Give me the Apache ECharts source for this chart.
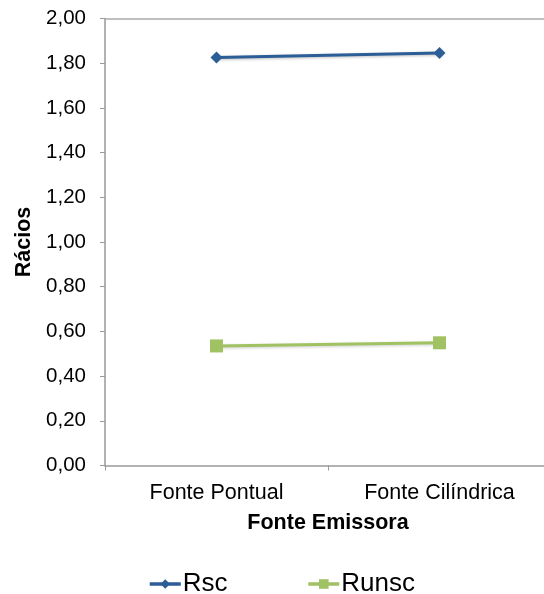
<!DOCTYPE html>
<html>
<head>
<meta charset="utf-8">
<script src="https://cdn.jsdelivr.net/npm/echarts@6/dist/echarts.min.js"></script>
<style>html,body{margin:0;padding:0;background:#fff;}#c{width:544px;height:594px;}</style>
</head>
<body>
<div id="c"></div>
<script>
const categories = ['Fonte Pontual', 'Fonte Cilíndrica'];
const rscValues = [1.826, 1.846];
const runscValues = [0.535, 0.549];
const yTicks = [0, 0.2, 0.4, 0.6, 0.8, 1.0, 1.2, 1.4, 1.6, 1.8, 2.0];

const font = "'Liberation Sans', Arial, Helvetica, sans-serif";
const chart = echarts.init(document.getElementById('c'));
chart.setOption({
  animation: false,
  grid: { left: 105, width: 446, top: 18.5, height: 447, containLabel: false, outerBoundsMode: 'none' },
  legend: {
    left: 143, top: 566, itemWidth: 31, itemHeight: 12, itemGap: 79,
    textStyle: { fontFamily: font, fontSize: 26, color: '#000', padding: [0,0,0,-3] },
    lineStyle: { width: 3.5 },
    data: ['Rsc', 'Runsc']
  },
  xAxis: [{
    type: 'category', data: categories, boundaryGap: true,
    axisLine: { lineStyle: { color: '#999', width: 1.5 } },
    axisTick: { show: true, length: 5, lineStyle: { color: '#999' } },
    axisLabel: { fontFamily: font, fontSize: 21.5, color: '#000', margin: 17 },
    name: 'Fonte Emissora', nameLocation: 'middle', nameGap: 47,
    nameTextStyle: { fontFamily: font, fontSize: 21.5, fontWeight: 'bold', color: '#000' }
  }, {
    type: 'category', data: categories, position: 'top',
    axisLine: { lineStyle: { color: '#aaa', width: 1.5 } },
    axisTick: { show: false }, axisLabel: { show: false }
  }],
  yAxis: {
    type: 'value', min: 0, max: 2, interval: 0.2,
    axisLine: { show: true, lineStyle: { color: '#999', width: 1.5 } },
    axisTick: { show: true, length: 5, lineStyle: { color: '#999' } },
    splitLine: { show: false },
    axisLabel: {
      fontFamily: font, fontSize: 20.5, color: '#000', margin: 19,
      formatter: v => {
        const t = yTicks.find(x => Math.abs(x - v) < 1e-9);
        return (t !== undefined ? t : v).toFixed(2).replace('.', ',');
      }
    },
    name: 'Rácios', nameLocation: 'middle', nameGap: 68, nameRotate: 90,
    nameTextStyle: { fontFamily: font, fontSize: 21.5, fontWeight: 'bold', color: '#000' }
  },
  series: [{
    name: 'Rsc', type: 'line', data: rscValues,
    symbol: 'diamond', symbolSize: 12,
    itemStyle: { color: '#2B5D96' },
    lineStyle: { color: '#2B5D96', width: 3, shadowBlur: 3, shadowColor: 'rgba(0,0,0,0.25)', shadowOffsetY: 1 }
  }, {
    name: 'Runsc', type: 'line', data: runscValues,
    symbol: 'rect', symbolSize: 13,
    itemStyle: { color: '#A1C263' },
    lineStyle: { color: '#A1C263', width: 3, shadowBlur: 3, shadowColor: 'rgba(0,0,0,0.2)', shadowOffsetY: 1 }
  }]
});
</script>
</body>
</html>
